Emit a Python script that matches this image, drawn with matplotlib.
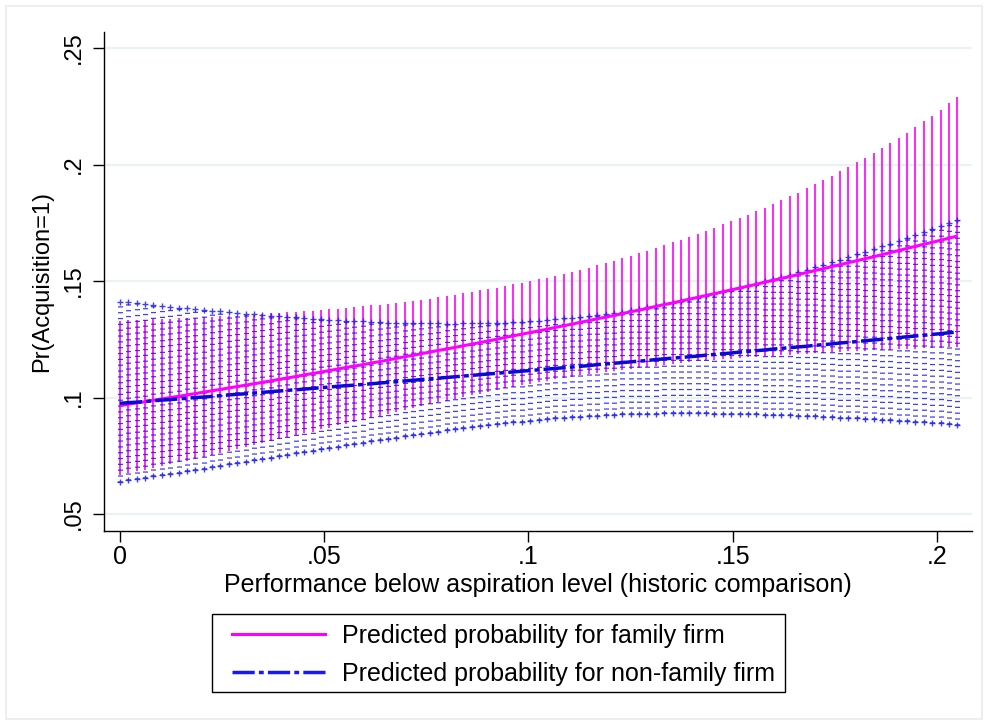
import matplotlib
matplotlib.use("Agg")
import matplotlib.pyplot as plt
from matplotlib.lines import Line2D
from matplotlib.patches import Rectangle

# margins at() grid for performance below aspiration level
x_at = [0, .00205, .0041, .00615, .0082, .01025, .0123, .01435, .0164, .01845,
        .0205, .02255, .0246, .02665, .0287, .03075, .0328, .03485, .0369, .03895,
        .041, .04305, .0451, .04715, .0492, .05125, .0533, .05535, .0574, .05945,
        .0615, .06355, .0656, .06765, .0697, .07175, .0738, .07585, .0779, .07995,
        .082, .08405, .0861, .08815, .0902, .09225, .0943, .09635, .0984, .10045,
        .1025, .10455, .1066, .10865, .1107, .11275, .1148, .11685, .1189, .12095,
        .123, .12505, .1271, .12915, .1312, .13325, .1353, .13735, .1394, .14145,
        .1435, .14555, .1476, .14965, .1517, .15375, .1558, .15785, .1599, .16195,
        .164, .16605, .1681, .17015, .1722, .17425, .1763, .17835, .1804, .18245,
        .1845, .18655, .1886, .19065, .1927, .19475, .1968, .19885, .2009, .20295,
        .205]

# family firms: predicted probability and 95% CI
fam_mean = [.0965, .0971, .0977, .0982, .0988, .0994, .1000, .1005, .1011, .1017,
            .1023, .1029, .1035, .1041, .1047, .1053, .1059, .1065, .1071, .1078,
            .1084, .1090, .1097, .1103, .1109, .1116, .1122, .1129, .1135, .1141,
            .1148, .1154, .1161, .1168, .1175, .1181, .1188, .1195, .1202, .1208,
            .1215, .1222, .1229, .1236, .1243, .1250, .1258, .1265, .1272, .1279,
            .1286, .1293, .1301, .1308, .1315, .1323, .1330, .1338, .1345, .1352,
            .1360, .1368, .1375, .1383, .1391, .1399, .1406, .1414, .1422, .1430,
            .1438, .1446, .1454, .1462, .1470, .1478, .1486, .1495, .1503, .1511,
            .1519, .1528, .1536, .1545, .1553, .1562, .1570, .1579, .1587, .1596,
            .1604, .1613, .1622, .1631, .1640, .1649, .1658, .1666, .1675, .1684,
            .1693]
fam_hi = [.1330, .1331, .1333, .1334, .1336, .1337, .1338, .1340, .1341, .1343,
          .1344, .1346, .1348, .1350, .1352, .1354, .1356, .1358, .1361, .1363,
          .1365, .1368, .1370, .1373, .1375, .1378, .1381, .1385, .1388, .1392,
          .1395, .1399, .1403, .1407, .1411, .1415, .1420, .1425, .1431, .1436,
          .1441, .1447, .1453, .1460, .1466, .1472, .1479, .1486, .1493, .1500,
          .1507, .1515, .1523, .1532, .1540, .1548, .1558, .1568, .1578, .1588,
          .1598, .1609, .1620, .1631, .1643, .1654, .1666, .1678, .1690, .1703,
          .1716, .1729, .1743, .1757, .1771, .1785, .1800, .1815, .1830, .1846,
          .1863, .1880, .1898, .1916, .1934, .1952, .1971, .1991, .2010, .2030,
          .2050, .2071, .2092, .2114, .2136, .2160, .2185, .2210, .2236, .2263,
          .2291]
fam_lo = [.0667, .0675, .0683, .0690, .0698, .0706, .0714, .0722, .0729, .0737,
          .0745, .0753, .0762, .0770, .0779, .0787, .0795, .0804, .0812, .0821,
          .0829, .0837, .0846, .0854, .0863, .0871, .0880, .0888, .0897, .0905,
          .0914, .0922, .0930, .0939, .0947, .0955, .0963, .0971, .0979, .0987,
          .0995, .1002, .1010, .1017, .1025, .1032, .1039, .1046, .1052, .1059,
          .1066, .1072, .1078, .1083, .1089, .1095, .1100, .1105, .1110, .1115,
          .1120, .1124, .1128, .1133, .1137, .1141, .1144, .1148, .1151, .1155,
          .1158, .1161, .1164, .1167, .1170, .1173, .1175, .1177, .1180, .1182,
          .1184, .1186, .1188, .1190, .1192, .1194, .1196, .1198, .1199, .1201,
          .1203, .1204, .1206, .1207, .1209, .1210, .1211, .1212, .1214, .1215,
          .1216]

# non-family firms: predicted probability and 95% CI
nonfam_mean = [.0975, .0978, .0980, .0983, .0986, .0989, .0991, .0994, .0997, .1000,
               .1002, .1005, .1008, .1011, .1014, .1016, .1019, .1022, .1025, .1028,
               .1031, .1033, .1036, .1039, .1042, .1045, .1048, .1051, .1053, .1056,
               .1059, .1062, .1065, .1068, .1071, .1074, .1077, .1080, .1083, .1086,
               .1089, .1092, .1095, .1098, .1101, .1104, .1107, .1110, .1113, .1116,
               .1119, .1122, .1125, .1128, .1131, .1134, .1137, .1141, .1144, .1147,
               .1150, .1153, .1156, .1159, .1163, .1166, .1169, .1172, .1175, .1178,
               .1182, .1185, .1188, .1191, .1195, .1198, .1201, .1204, .1208, .1211,
               .1214, .1217, .1220, .1224, .1227, .1230, .1234, .1237, .1240, .1244,
               .1247, .1250, .1254, .1257, .1261, .1264, .1267, .1271, .1274, .1278,
               .1281]
nonfam_hi = [.1412, .1408, .1405, .1401, .1397, .1393, .1390, .1386, .1383, .1379,
             .1376, .1373, .1370, .1366, .1363, .1360, .1357, .1354, .1352, .1349,
             .1346, .1344, .1341, .1339, .1336, .1334, .1332, .1330, .1329, .1327,
             .1325, .1324, .1322, .1321, .1320, .1319, .1318, .1318, .1318, .1317,
             .1317, .1318, .1318, .1319, .1319, .1320, .1322, .1324, .1326, .1328,
             .1330, .1333, .1336, .1340, .1343, .1346, .1351, .1355, .1360, .1364,
             .1369, .1375, .1381, .1388, .1394, .1400, .1407, .1414, .1422, .1429,
             .1436, .1445, .1453, .1462, .1470, .1479, .1489, .1498, .1508, .1517,
             .1527, .1538, .1548, .1559, .1569, .1580, .1591, .1603, .1614, .1626,
             .1637, .1649, .1661, .1673, .1685, .1697, .1710, .1723, .1736, .1749,
             .1762]
nonfam_lo = [.0639, .0644, .0650, .0656, .0661, .0667, .0672, .0678, .0684, .0689,
             .0695, .0701, .0707, .0713, .0719, .0725, .0731, .0736, .0742, .0748,
             .0754, .0760, .0766, .0771, .0777, .0783, .0789, .0795, .0800, .0806,
             .0812, .0817, .0823, .0828, .0833, .0839, .0844, .0849, .0854, .0859,
             .0864, .0868, .0873, .0877, .0882, .0886, .0890, .0894, .0897, .0901,
             .0905, .0908, .0910, .0913, .0915, .0918, .0920, .0922, .0924, .0926,
             .0928, .0929, .0930, .0930, .0931, .0932, .0932, .0932, .0932, .0932,
             .0932, .0931, .0931, .0930, .0930, .0929, .0928, .0927, .0926, .0925,
             .0924, .0922, .0921, .0919, .0918, .0916, .0914, .0912, .0910, .0908,
             .0906, .0904, .0902, .0900, .0898, .0896, .0893, .0891, .0889, .0886,
             .0884]

yticks = [.05, .1, .15, .2, .25]
ytick_labels = [".05", ".1", ".15", ".2", ".25"]
xticks = [0, .05, .1, .15, .2]
xtick_labels = ["0", ".05", ".1", ".15", ".2"]

MAGENTA = "#FF00FF"
BLUE = "#1E1EF0"
FONT = ["Liberation Sans", "DejaVu Sans"]

plt.rcParams["lines.scale_dashes"] = False
plt.rcParams["font.family"] = FONT

fig = plt.figure(figsize=(9.88, 7.25), dpi=100)
W, H = 988, 725
fig.patches.append(Rectangle((6 / W, 6 / H), 1 - 12 / W, 1 - 12 / H, transform=fig.transFigure,
                             fill=False, edgecolor="#E6EEF0", lw=1.2))

ax = fig.add_axes([104 / W, 1 - 531 / H, (972 - 104) / W, (531 - 32) / H])
ax.set_xlim(-0.0039, 0.2086)
ax.set_ylim(0.0427, 0.2569)

ax.set_yticks(yticks)
ax.set_yticklabels(ytick_labels, rotation=90, va="center", fontsize=17)
ax.set_xticks(xticks)
ax.set_xticklabels(xtick_labels, fontsize=18)
ax.tick_params(axis="y", length=8, width=1, pad=6, colors="black")
ax.tick_params(axis="x", length=8, width=1, pad=2, colors="black")
ax.grid(axis="y", color="#EAF2F3", lw=1.6)
ax.set_axisbelow(True)
for s in ["top", "right"]:
    ax.spines[s].set_visible(False)
for s in ["left", "bottom"]:
    ax.spines[s].set_linewidth(1.0)

# CI spikes
ax.vlines(x_at, fam_lo, fam_hi, color=MAGENTA, lw=1.2, zorder=2)
ax.vlines(x_at, nonfam_lo, nonfam_hi, color=BLUE, lw=3.6, alpha=0.85,
          linestyles=[(0, (0.9, 3.3))], zorder=3)
ax.scatter(x_at, nonfam_lo, marker="+", s=24, color=BLUE, lw=1.0, alpha=0.85, zorder=3)
ax.scatter(x_at, nonfam_hi, marker="+", s=24, color=BLUE, lw=1.0, alpha=0.85, zorder=3)

# predicted probabilities
ax.plot(x_at, fam_mean, color=MAGENTA, lw=2.2, solid_capstyle="butt", zorder=4)
ax.plot(x_at, nonfam_mean, color="#0A0AD8", lw=2.5, dashes=(16, 3, 3.5, 3), zorder=5)

ax.set_xlabel("Performance below aspiration level (historic comparison)", fontsize=18,
              labelpad=3)
ax.set_ylabel("Pr(Acquisition=1)", fontsize=17, labelpad=7)

# legend box below the plot region
fig.patches.append(Rectangle((212 / W, 1 - 692 / H), (785 - 212) / W, (692 - 614) / H,
                             transform=fig.transFigure, fill=False, edgecolor="black", lw=1.0))
handles = [Line2D([], [], color=MAGENTA, lw=2.2),
           Line2D([], [], color="#1A1AF0", lw=2.5, dashes=(16, 3, 3.5, 3))]
labels = ["Predicted probability for family firm", "Predicted probability for non-family firm"]
fig.legend(handles, labels, loc="upper left", bbox_to_anchor=(232 / W, 1 - 624 / H),
           borderaxespad=0, borderpad=0, frameon=False, handlelength=3.7,
           handletextpad=0.68, labelspacing=0.55, fontsize=18)

fig.savefig("out.png", dpi=100, facecolor="white")
